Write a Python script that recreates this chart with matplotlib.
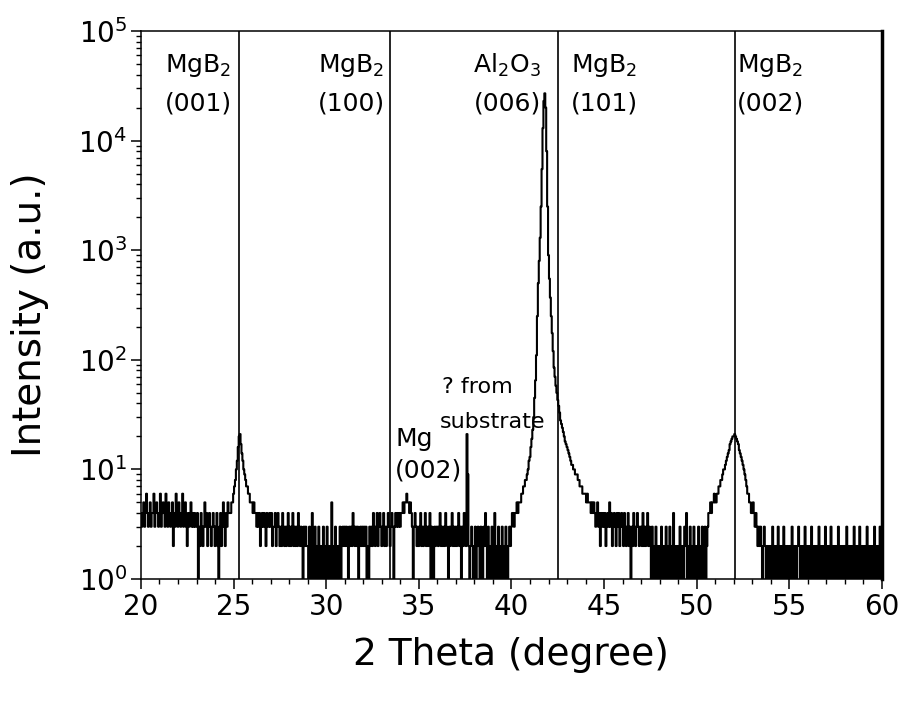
import numpy as np
import matplotlib
matplotlib.use("Agg")
import matplotlib.pyplot as plt
from matplotlib.ticker import LogLocator, MultipleLocator, NullFormatter

# XRD scan, 20-60 deg, 0.05 deg step; counts, one row per degree
rows = [
    [4, 3, 4, 5, 3, 4, 6, 4, 3, 4, 5, 3, 4, 4, 6, 3, 4, 5, 4, 3],  # 20
    [4, 6, 3, 4, 5, 4, 3, 6, 4, 3, 5, 4, 3, 4, 5, 2, 4, 3, 6, 4],  # 21
    [3, 5, 4, 3, 4, 6, 3, 4, 5, 3, 2, 4, 3, 4, 5, 3, 4, 3, 4, 3],  # 22
    [3, 4, 1, 3, 2, 4, 3, 2, 3, 5, 3, 4, 2, 3, 4, 3, 2, 3, 4, 3],  # 23
    [2, 3, 4, 2, 1, 3, 4, 2, 3, 5, 3, 2, 4, 3, 5, 4, 4, 4, 5, 5],  # 24
    [6, 7, 8, 10, 12, 16, 20, 21, 17, 14, 12, 10, 9, 8, 7, 7, 6, 6, 5, 5],  # 25
    [5, 4, 5, 4, 4, 3, 4, 3, 4, 2, 3, 4, 3, 4, 3, 2, 4, 3, 3, 4],  # 26
    [3, 4, 2, 3, 3, 4, 2, 3, 4, 3, 2, 3, 2, 4, 3, 2, 3, 2, 3, 4],  # 27
    [2, 3, 2, 3, 4, 2, 3, 2, 3, 2, 4, 3, 2, 3, 2, 1, 3, 2, 3, 2],  # 28
    [2, 1, 3, 2, 1, 4, 2, 1, 3, 2, 1, 2, 3, 1, 2, 1, 2, 3, 1, 2],  # 29
    [1, 3, 2, 1, 2, 1, 5, 2, 1, 2, 3, 1, 2, 1, 2, 3, 1, 2, 3, 2],  # 30
    [3, 2, 3, 2, 1, 3, 2, 3, 2, 4, 3, 2, 3, 2, 3, 1, 2, 3, 2, 3],  # 31
    [2, 3, 2, 3, 1, 2, 1, 3, 2, 3, 2, 4, 3, 2, 3, 4, 2, 3, 4, 3],  # 32
    [2, 3, 4, 2, 3, 2, 3, 4, 3, 2, 3, 4, 3, 1, 3, 4, 3, 4, 3, 4],  # 33
    [3, 4, 4, 5, 4, 5, 5, 6, 5, 5, 4, 5, 4, 3, 1, 3, 4, 3, 2, 3],  # 34
    [2, 3, 4, 2, 3, 2, 3, 4, 2, 3, 2, 3, 4, 1, 3, 2, 1, 3, 2, 3],  # 35
    [3, 2, 3, 4, 2, 3, 2, 3, 2, 4, 3, 2, 1, 3, 2, 3, 4, 2, 3, 2],  # 36
    [3, 2, 3, 4, 2, 3, 1, 3, 2, 4, 3, 2, 21, 9, 2, 1, 2, 3, 2, 1],  # 37
    [2, 3, 1, 2, 3, 2, 1, 3, 2, 1, 3, 2, 4, 2, 1, 3, 2, 1, 2, 3],  # 38
    [1, 2, 4, 1, 2, 1, 3, 2, 1, 2, 3, 1, 2, 1, 3, 2, 1, 2, 3, 2],  # 39
    [3, 4, 4, 3, 4, 4, 5, 4, 5, 5, 5, 6, 6, 7, 7, 8, 8, 9, 10, 12],  # 40
    [13, 16, 19, 23, 30, 45, 65, 110, 250, 500, 800, 1300, 2500, 5500,
     13000, 23000, 27000, 20000, 8000, 2500],  # 41
    [900, 550, 370, 250, 175, 120, 85, 70, 58, 50, 43, 38, 33, 28, 26,
     24, 22, 20, 18, 17],  # 42
    [16, 15, 14, 13, 12, 11, 11, 10, 10, 9, 9, 9, 8, 8, 7, 7, 7, 6, 6, 6],  # 43
    [6, 5, 6, 5, 5, 5, 4, 5, 4, 5, 4, 3, 4, 5, 3, 4, 2, 4, 3, 4],  # 44
    [3, 4, 2, 3, 4, 3, 5, 3, 4, 2, 3, 4, 3, 2, 4, 3, 4, 2, 3, 4],  # 45
    [3, 2, 4, 3, 2, 3, 4, 2, 3, 1, 3, 2, 4, 3, 2, 3, 4, 3, 2, 3],  # 46
    [3, 2, 4, 2, 3, 2, 3, 4, 2, 3, 2, 1, 3, 2, 1, 2, 3, 1, 2, 1],  # 47
    [2, 1, 3, 1, 2, 1, 2, 3, 1, 2, 1, 3, 1, 2, 1, 4, 2, 1, 2, 1],  # 48
    [2, 1, 3, 2, 1, 2, 1, 3, 2, 4, 1, 2, 1, 3, 2, 1, 2, 3, 1, 2],  # 49
    [1, 2, 3, 1, 2, 1, 3, 1, 2, 3, 1, 2, 3, 4, 4, 5, 4, 5, 5, 6],  # 50
    [5, 5, 6, 6, 7, 7, 8, 8, 9, 10, 10, 11, 12, 13, 14, 15, 17, 18, 19, 20],  # 51
    [20, 21, 20, 19, 18, 17, 15, 14, 13, 12, 11, 10, 9, 8, 7, 6, 6, 5, 5, 4],  # 52
    [4, 5, 4, 3, 4, 3, 2, 3, 2, 3, 2, 1, 2, 3, 2, 1, 2, 2, 1, 2],  # 53
    [1, 2, 3, 1, 2, 1, 2, 1, 3, 2, 1, 2, 1, 2, 3, 1, 2, 1, 2, 1],  # 54
    [2, 1, 2, 3, 1, 2, 1, 2, 1, 2, 3, 2, 1, 2, 1, 2, 1, 3, 2, 1],  # 55
    [2, 1, 2, 1, 3, 2, 1, 2, 1, 2, 1, 2, 3, 1, 2, 1, 2, 1, 2, 3],  # 56
    [1, 2, 1, 2, 1, 3, 2, 1, 2, 1, 2, 1, 2, 3, 1, 2, 1, 2, 1, 2],  # 57
    [2, 1, 3, 2, 1, 2, 1, 2, 1, 2, 3, 1, 2, 1, 2, 1, 3, 2, 1, 2],  # 58
    [1, 2, 1, 2, 3, 1, 2, 1, 2, 1, 2, 1, 3, 2, 1, 2, 1, 2, 3, 1],  # 59
    [2],                                                           # 60
]
counts = np.array([c for r in rows for c in r], dtype=float)
two_theta = 20 + 0.05 * np.arange(len(counts))

# reflection markers
line_pos = [25.3, 33.45, 42.5, 52.05]
labels_top = ["MgB$_2$", "MgB$_2$", "Al$_2$O$_3$", "MgB$_2$", "MgB$_2$"]
labels_hkl = ["(001)", "(100)", "(006)", "(101)", "(002)"]
label_x = [21.3, 29.55, 37.95, 43.2, 52.15]

fig = plt.figure(figsize=(9.03, 7.02), dpi=100)
ax = fig.add_axes([0.1561, 0.1752, 0.8206, 0.7806])

ax.plot(two_theta, counts, color="black", lw=1.5, drawstyle="steps-mid")
for x in line_pos:
    ax.axvline(x, color="black", lw=1.2)

ax.set_xlim(20, 60)
ax.set_yscale("log")
ax.set_ylim(1, 1e5)

ax.xaxis.set_major_locator(MultipleLocator(5))
ax.xaxis.set_minor_locator(MultipleLocator(1))
ax.yaxis.set_major_locator(LogLocator(base=10, numticks=10))
ax.yaxis.set_minor_locator(LogLocator(base=10, subs=np.arange(2, 10), numticks=20))
ax.yaxis.set_minor_formatter(NullFormatter())
ax.tick_params(which="major", direction="out", length=7, width=1.1, labelsize=20, pad=3)
ax.tick_params(which="minor", direction="out", length=3.5, width=1.0)
ax.tick_params(top=False, right=False)
for s in ["left", "bottom", "top"]:
    ax.spines[s].set_linewidth(1.1)
ax.spines["right"].set_linewidth(2.5)

ax.set_xlabel("2 Theta (degree)", fontsize=27)
ax.set_ylabel("Intensity (a.u.)", fontsize=28)
ax.xaxis.set_label_coords(0.499, -0.139)
ax.xaxis.label.set_verticalalignment("center")
ax.yaxis.set_label_coords(-0.150, 0.482)
ax.yaxis.label.set_verticalalignment("center")

for x, t, h in zip(label_x, labels_top, labels_hkl):
    ax.text(x, 4.2e4, t, fontsize=18, ha="left", va="baseline")
    ax.text(x, 1.9e4, h, fontsize=18, ha="left", va="baseline")

ax.text(33.72, 16.5, "Mg", fontsize=18, ha="left", va="baseline")
ax.text(33.72, 8.4, "(002)", fontsize=18, ha="left", va="baseline")
ax.text(36.25, 50, "? from", fontsize=16, ha="left", va="baseline")
ax.text(36.15, 24, "substrate", fontsize=16, ha="left", va="baseline")

fig.savefig("out.png", dpi=100)
